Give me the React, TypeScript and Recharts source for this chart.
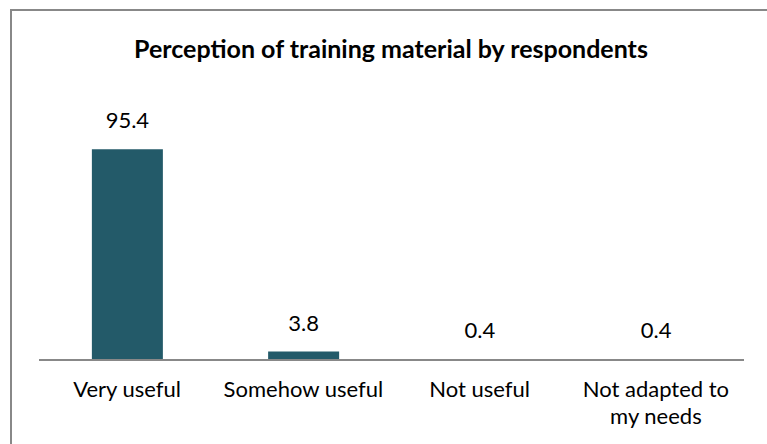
import { BarChart, Bar, XAxis, YAxis, LabelList } from 'recharts';

const categories = ['Very useful', 'Somehow useful', 'Not useful', 'Not adapted to my needs'];
const percentages = [95.4, 3.8, 0.4, 0.4];

const chartData = categories.map((name, i) => ({ name, value: percentages[i] }));

const FONT = 'Lato, "Open Sans", sans-serif';

// greedy word wrap, Excel wraps the long category names onto two lines
const wrapWords = (label: string, maxChars: number) => {
    const lines: string[] = [];
    let cur = '';
    label.split(' ').forEach(w => {
        const next = cur ? cur + ' ' + w : w;
        if (next.length > maxChars && cur) {
            lines.push(cur);
            cur = w;
        } else {
            cur = next;
        }
    });
    if (cur) lines.push(cur);
    return lines;
};

const CategoryTick = (props: any) => {
    const { x, y, payload } = props;
    const lines = wrapWords(String(payload.value), 14);
    return (
        <text x={x} y={y} textAnchor="middle" fontSize={22} fontFamily={FONT} fill="#000">
            {lines.map((line, i) => (
                <tspan key={i} x={x} y={y + 29 + i * 27}>{line}</tspan>
            ))}
        </text>
    );
};

export default function App() {
    return (
        <div style={{ position: 'fixed', left: 0, top: 0, width: 767, height: 444, overflow: 'hidden', background: '#fff' }}>
            <div style={{ position: 'absolute', left: 10, top: 9, width: 800, height: 460, border: '2px solid #888', boxSizing: 'border-box' }}>
                <div style={{ position: 'absolute', left: 0, top: 22, width: 758, textAlign: 'center', fontFamily: FONT, fontWeight: 'bold', fontSize: 25, color: '#000' }}>
                    Perception of training material by respondents
                </div>
                <div style={{ position: 'absolute', left: 0, top: 0 }}>
                    <BarChart width={800} height={440} data={chartData} margin={{ top: 128, right: 68, left: 27, bottom: 31 }} barCategoryGap="30%">
                        <XAxis dataKey="name" height={60} stroke="#888" strokeWidth={2} tickLine={false} interval={0} tick={<CategoryTick />} />
                        <YAxis hide domain={[0, 100]} />
                        <Bar dataKey="value" fill="#235a69" isAnimationActive={false}>
                            <LabelList dataKey="value" position="top" offset={21} fontSize={22} fontFamily={FONT} fill="#000" />
                        </Bar>
                    </BarChart>
                </div>
            </div>
        </div>
    );
}
